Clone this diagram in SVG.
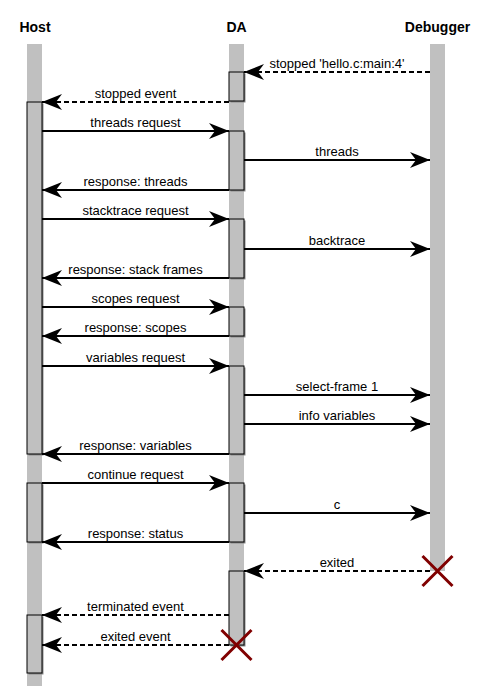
<svg xmlns="http://www.w3.org/2000/svg" width="486" height="691" viewBox="0 0 486 691">
<style>
.title{font-family:"Liberation Sans",Arial,sans-serif;font-size:14px;font-weight:bold;text-anchor:middle;fill:#000}
.lbl{font-family:"Liberation Sans",Arial,sans-serif;font-size:13px;text-anchor:middle;fill:#000}
.life{fill:#c0c0c0}
.act{fill:#c0c0c0;stroke:#000;stroke-width:1}
.shd{fill:#8a8a8a}
.msg{stroke:#000;stroke-width:2;fill:none;marker-end:url(#ah)}
.dash{stroke-dasharray:5,3}
.x{stroke:#800000;stroke-width:3;fill:none}
</style>
<defs>
<marker id="ah" markerUnits="userSpaceOnUse" markerWidth="21" markerHeight="17" viewBox="0 0 21 17" refX="20.5" refY="8.5" orient="auto">
<path d="M20.5,8.5 L0.5,0.5 L6.5,8.5 L0.5,16.5 Z" fill="#000"/>
</marker>
</defs>
<rect width="486" height="691" fill="#fff"/>
<g id="host">
<text class="title" x="35" y="32">Host</text>
<rect class="life" x="27" y="44" width="15" height="642"/>
<rect class="shd" x="28.5" y="103.5" width="15" height="352"/>
<rect class="act" x="27" y="102" width="15" height="352"/>
<rect class="shd" x="28.5" y="484.5" width="15" height="59"/>
<rect class="act" x="27" y="483" width="15" height="59"/>
<rect class="shd" x="28.5" y="616.5" width="15" height="58"/>
<rect class="act" x="27" y="615" width="15" height="58"/>
</g>
<g id="da">
<text class="title" x="236.5" y="32">DA</text>
<rect class="life" x="229" y="44" width="15" height="601"/>
<rect class="shd" x="230.5" y="73.5" width="15" height="29"/>
<rect class="act" x="229" y="72" width="15" height="29"/>
<rect class="shd" x="230.5" y="132.5" width="15" height="59"/>
<rect class="act" x="229" y="131" width="15" height="59"/>
<rect class="shd" x="230.5" y="220.5" width="15" height="59"/>
<rect class="act" x="229" y="219" width="15" height="59"/>
<rect class="shd" x="230.5" y="308.5" width="15" height="29"/>
<rect class="act" x="229" y="307" width="15" height="29"/>
<rect class="shd" x="230.5" y="367.5" width="15" height="88"/>
<rect class="act" x="229" y="366" width="15" height="88"/>
<rect class="shd" x="230.5" y="484.5" width="15" height="59"/>
<rect class="act" x="229" y="483" width="15" height="59"/>
<rect class="shd" x="230.5" y="572.5" width="15" height="74"/>
<rect class="act" x="229" y="571" width="15" height="74"/>
<path class="x" d="M221.5,630 L251.5,660 M251.5,630 L221.5,660"/>
</g>
<g id="debugger">
<text class="title" x="437.5" y="32">Debugger</text>
<rect class="life" x="430" y="44" width="15" height="527"/>
</g>
<g id="connectors">
<line class="msg dash" x1="430" y1="72" x2="244" y2="72"/>
<text class="lbl" x="337" y="68">stopped 'hello.c:main:4'</text>
<line class="msg dash" x1="229" y1="102" x2="42" y2="102"/>
<text class="lbl" x="135.5" y="98">stopped event</text>
<line class="msg" x1="42" y1="131" x2="229" y2="131"/>
<text class="lbl" x="135.5" y="127">threads request</text>
<line class="msg" x1="244" y1="160" x2="430" y2="160"/>
<text class="lbl" x="337" y="156">threads</text>
<line class="msg" x1="229" y1="190" x2="42" y2="190"/>
<text class="lbl" x="135.5" y="186">response: threads</text>
<line class="msg" x1="42" y1="219" x2="229" y2="219"/>
<text class="lbl" x="135.5" y="215">stacktrace request</text>
<line class="msg" x1="244" y1="249" x2="430" y2="249"/>
<text class="lbl" x="337" y="245">backtrace</text>
<line class="msg" x1="229" y1="278" x2="42" y2="278"/>
<text class="lbl" x="135.5" y="274">response: stack frames</text>
<line class="msg" x1="42" y1="307" x2="229" y2="307"/>
<text class="lbl" x="135.5" y="303">scopes request</text>
<line class="msg" x1="229" y1="336" x2="42" y2="336"/>
<text class="lbl" x="135.5" y="332">response: scopes</text>
<line class="msg" x1="42" y1="366" x2="229" y2="366"/>
<text class="lbl" x="135.5" y="362">variables request</text>
<line class="msg" x1="244" y1="395" x2="430" y2="395"/>
<text class="lbl" x="337" y="391">select-frame 1</text>
<line class="msg" x1="244" y1="424" x2="430" y2="424"/>
<text class="lbl" x="337" y="420">info variables</text>
<line class="msg" x1="229" y1="454" x2="42" y2="454"/>
<text class="lbl" x="135.5" y="450">response: variables</text>
<line class="msg" x1="42" y1="483" x2="229" y2="483"/>
<text class="lbl" x="135.5" y="479">continue request</text>
<line class="msg" x1="244" y1="513" x2="430" y2="513"/>
<text class="lbl" x="337" y="509">c</text>
<line class="msg" x1="229" y1="542" x2="42" y2="542"/>
<text class="lbl" x="135.5" y="538">response: status</text>
<line class="msg dash" x1="430" y1="571" x2="244" y2="571"/>
<text class="lbl" x="337" y="567">exited</text>
<line class="msg dash" x1="229" y1="615" x2="42" y2="615"/>
<text class="lbl" x="135.5" y="611">terminated event</text>
<line class="msg dash" x1="229" y1="645" x2="42" y2="645"/>
<text class="lbl" x="135.5" y="641">exited event</text>
</g>
<path class="x" d="M422.5,556 L452.5,586 M452.5,556 L422.5,586"/>
</svg>
